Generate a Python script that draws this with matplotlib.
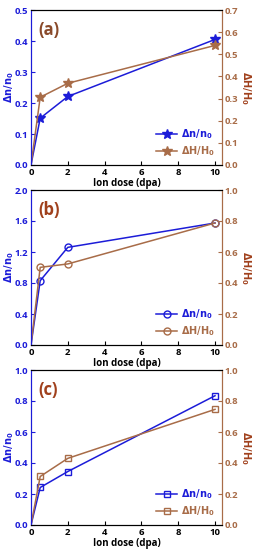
import numpy as np
import matplotlib
matplotlib.use("Agg")
import matplotlib.pyplot as plt

plt.rcParams['font.family'] = ['Open Sans', 'DejaVu Sans']
plt.rcParams['font.weight'] = 'bold'

dose = [0, 0.5, 2, 10]

dn_a = [0, 0.151, 0.221, 0.405]
dh_a = [0, 0.306, 0.369, 0.540]
dn_b = [0, 0.83, 1.26, 1.574]
dh_b = [0, 0.501, 0.523, 0.787]
dn_c = [0, 0.242, 0.345, 0.834]
dh_c = [0, 0.313, 0.430, 0.746]

panels = ["(a)", "(b)", "(c)"]
markers = ["*", "o", "s"]
left_lims = [(0, 0.5), (0, 2.0), (0, 1.0)]
right_lims = [(0, 0.7), (0, 1.0), (0, 1.0)]
left_ticks = [np.arange(0, 0.51, 0.1), np.arange(0, 2.01, 0.4), np.arange(0, 1.01, 0.2)]
right_ticks = [np.arange(0, 0.71, 0.1), np.arange(0, 1.01, 0.2), np.arange(0, 1.01, 0.2)]
dn_all = [dn_a, dn_b, dn_c]
dh_all = [dh_a, dh_b, dh_c]

blue = '#1c1cd8'
brown = '#a86c48'
red_lab = '#a0401c'

fig = plt.figure(figsize=(2.54, 5.5), dpi=100)
W, H = 254, 550
tops = [10, 190, 370]

for i in range(3):
    ax = fig.add_axes([31 / W, 1 - (tops[i] + 155) / H, 191 / W, 155 / H])
    ax2 = ax.twinx()
    ms = 7.5 if markers[i] == "*" else 5
    mfc_b = blue if markers[i] == "*" else 'none'
    mfc_r = brown if markers[i] == "*" else 'none'
    l1, = ax.plot(dose, dn_all[i], color=blue, lw=1.1, marker=markers[i], ms=ms,
                  mfc=mfc_b, mew=1.0, markevery=[1, 2, 3], label=r'$\mathbf{\Delta n/n_0}$')
    l2, = ax2.plot(dose, dh_all[i], color=brown, lw=1.1, marker=markers[i], ms=ms,
                   mfc=mfc_r, mew=1.0, markevery=[1, 2, 3], label=r'$\mathbf{\Delta H/H_0}$')
    ax.set_xlim(0, 10.38)
    ax.set_ylim(*left_lims[i])
    ax2.set_ylim(*right_lims[i])
    ax.set_xticks([0, 2, 4, 6, 8, 10])
    ax.set_yticks(left_ticks[i])
    ax2.set_yticks(right_ticks[i])
    ax.set_yticklabels([f"{v:.1f}" for v in left_ticks[i]])
    ax2.set_yticklabels([f"{v:.1f}" for v in right_ticks[i]])
    ax.tick_params(axis='x', direction='in', labelsize=6.8, length=3, width=0.8, pad=2)
    ax.tick_params(axis='y', direction='in', labelsize=6.8, length=3, width=0.8,
                   colors=blue, pad=2)
    ax2.tick_params(axis='y', direction='in', labelsize=6.8, length=3, width=0.8,
                    colors=brown, pad=2)
    for lab in ax.get_xticklabels() + ax.get_yticklabels() + ax2.get_yticklabels():
        lab.set_fontweight('bold')
    ax2.spines['left'].set_color(blue)
    ax2.spines['right'].set_color(brown)
    ax.spines['left'].set_color(blue)
    ax.spines['right'].set_color(brown)
    ax.set_xlabel("Ion dose (dpa)", fontsize=7, fontweight='bold', labelpad=1)
    ax.set_ylabel(r'$\mathbf{\Delta n/n_0}$', fontsize=7, color=blue)
    ax.yaxis.set_label_coords(-0.08, 0.5)
    ax2.set_ylabel(r'$\mathbf{\Delta H/H_0}$', fontsize=7, color=red_lab, rotation=270)
    ax2.yaxis.set_label_coords(1.16, 0.5)
    ax.text(0.04, 0.93, panels[i], transform=ax.transAxes, fontsize=12,
            fontweight='bold', color=red_lab if i > 0 else '#8a4a2a', va='top')
    leg = ax2.legend([l1, l2], [l1.get_label(), l2.get_label()], loc='lower right',
                     frameon=False, fontsize=7, handlelength=2.2, borderaxespad=0.3,
                     labelspacing=0.3, handletextpad=0.4)
    leg.get_texts()[0].set_color(blue)
    leg.get_texts()[1].set_color(brown)

fig.savefig("out.png", dpi=100)
